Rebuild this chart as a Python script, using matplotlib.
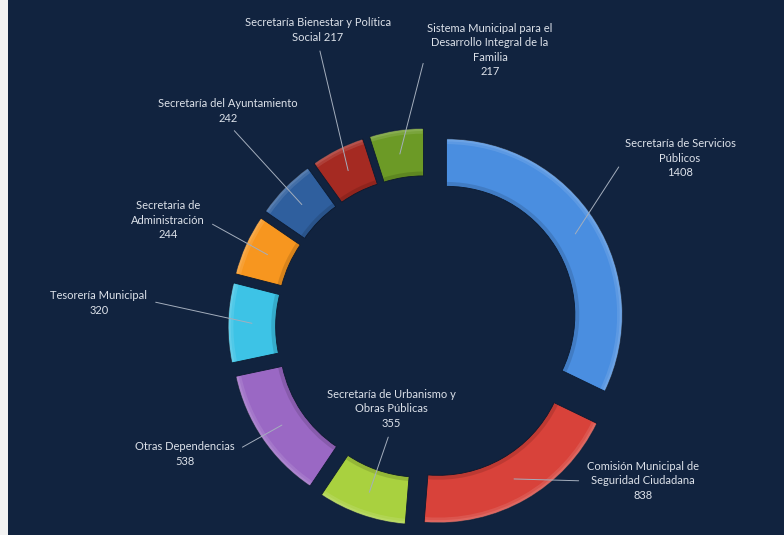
import numpy as np
import matplotlib.pyplot as plt
from matplotlib.patches import Wedge, Rectangle

# clockwise from 12 o'clock
names = ["Secretaría de Servicios\nPúblicos",
         "Comisión Municipal de\nSeguridad Ciudadana",
         "Secretaría de Urbanismo y\nObras Públicas",
         "Otras Dependencias",
         "Tesorería Municipal",
         "Secretaria de\nAdministración",
         "Secretaría del Ayuntamiento",
         "Secretaría Bienestar y Política\nSocial",
         "Sistema Municipal para el\nDesarrollo Integral de la\nFamilia"]
values = [1408, 838, 355, 538, 320, 244, 242, 217, 217]
value_sep = ["\n", "\n", "\n", "\n", "\n", "\n", "\n", " ", "\n"]
colors = ["#4a8ee0", "#d8423a", "#a9d13f", "#9a68c4", "#3dc3e6",
          "#f7961f", "#2f5f9e", "#a52a22", "#6c9a26"]

# label centres (image pixels) and where the leader leaves the text box
label_xy = [(680, 158), (643, 481), (391, 409), (185, 454), (99, 303),
            (168, 220), (228, 111), (318, 30), (490, 50)]
rel = [(0, 0.5), (0, 0.5), (0.5, 0), (1, 0.6), (1, 0.6),
       (1, 0.5), (0.5, 0), (0.5, 0), (0, 0.55)]

bg = "#11233f"
W, H = 784, 535
cx, cy, R = 427, 327, 176


def px(x, y):
    return ((x - cx) / R, (cy - y) / R)


fig = plt.figure(figsize=(W / 100, H / 100), dpi=100)
fig.patch.set_facecolor(bg)
ax = fig.add_axes([0, 0, 1, 1])

wedges, _ = ax.pie(values, colors=colors, startangle=90, counterclock=False,
                   explode=[0.13] * len(values), radius=1,
                   wedgeprops=dict(width=0.27, linewidth=0.6, edgecolor="#0c1a30"))

# soft bevel: light outer rim, darker inner rim
for w in wedges:
    for k, a in [(0.03, 0.10), (0.015, 0.10)]:
        ax.add_patch(Wedge(w.center, w.r, w.theta1 + 0.3, w.theta2 - 0.3, width=k,
                           facecolor="white", alpha=a, linewidth=0))
    ax.add_patch(Wedge(w.center, w.r - w.width + 0.025, w.theta1 + 0.3, w.theta2 - 0.3,
                       width=0.025, facecolor="black", alpha=0.12, linewidth=0))

for w, name, val, sep, (lx, ly), rp in zip(wedges, names, values, value_sep,
                                            label_xy, rel):
    t = np.deg2rad((w.theta1 + w.theta2) / 2)
    rm = w.r - w.width / 2
    pt = (w.center[0] + rm * np.cos(t), w.center[1] + rm * np.sin(t))
    ax.annotate(name + sep + str(val), xy=pt, xytext=px(lx, ly),
                ha="center", va="center", multialignment="center",
                fontsize=8, family="Lato", color="#dde2ea", linespacing=1.4,
                arrowprops=dict(arrowstyle="-", color="#a4aebd", lw=0.7,
                                relpos=rp, shrinkA=4, shrinkB=0))

ax.set_xlim(-cx / R, (W - cx) / R)
ax.set_ylim(-(H - cy) / R, cy / R)
ax.set_aspect("equal")
ax.axis("off")

# white strip on the left edge
fig.patches.append(Rectangle((0, 0), 8 / W, 1, transform=fig.transFigure,
                             facecolor="#f2f2f2", edgecolor="none"))

fig.savefig("out.png", dpi=100, facecolor=bg)
